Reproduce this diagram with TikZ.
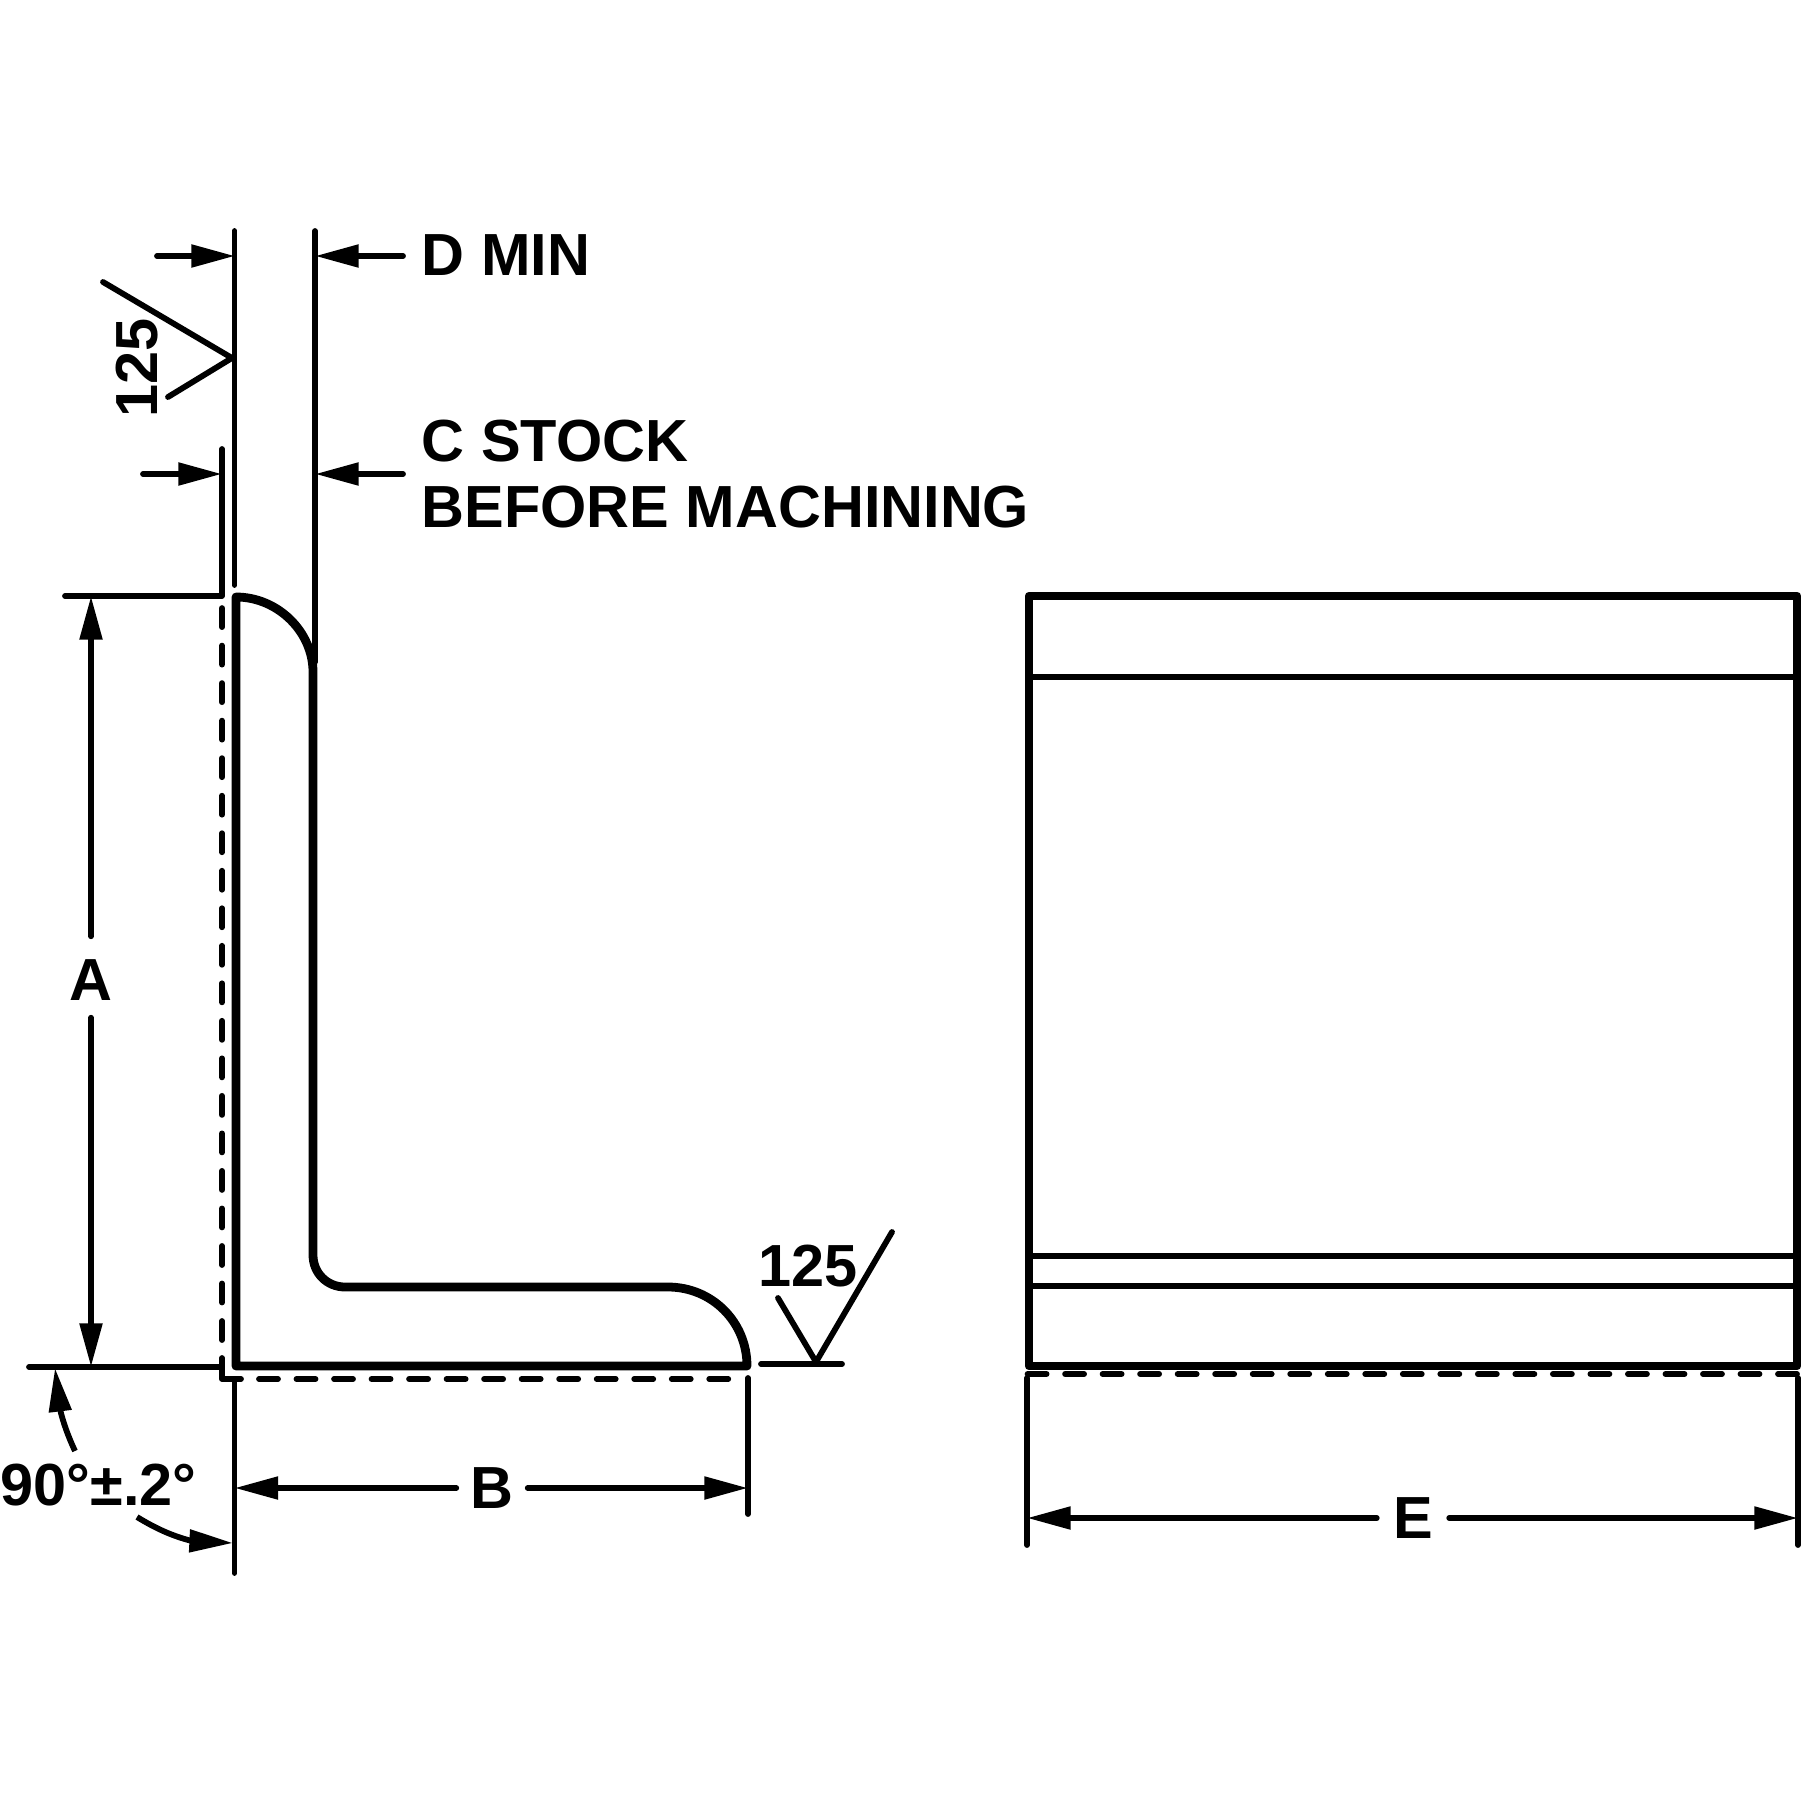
\documentclass[tikz,border=0pt]{standalone}
\usepackage{fontspec}
\setmainfont{Liberation Sans}
\usetikzlibrary{arrows.meta}
\tikzset{
  x=0.01cm,y=-0.01cm,
  thinline/.style={line width=1.65pt,line cap=round,line join=round,black},
  thickline/.style={line width=2.5pt,line cap=round,line join=round,black},
  dashline/.style={thinline,dash pattern=on 5.4pt off 5.27pt},
  dimline/.style={thinline,-{Triangle[length=12.4pt,width=6.2pt]}},
  lbl/.style={font=\bfseries\fontsize{16.9}{18}\selectfont,inner sep=0pt,text=black},
  txt/.style={lbl,anchor=base west},
}
\begin{document}
\begin{tikzpicture}
\useasboundingbox (0,0) rectangle (1803,1803);
\fill[white] (0,0) rectangle (1803,1803);

% extension-line anchor points
\coordinate (dLtop) at (234.5,231); \coordinate (dLbot) at (234.5,585);
\coordinate (dRtop) at (315,231);   \coordinate (dRbot) at (315,662);
\coordinate (cLtop) at (222,449);   \coordinate (cLbot) at (222,596);
\coordinate (aTopL) at (65,596);
\coordinate (aBotL) at (29,1367);   \coordinate (aBotR) at (222,1367);
\coordinate (bLtop) at (234.5,1379);\coordinate (bLbot) at (234.5,1573);
\coordinate (bRtop) at (748,1378);  \coordinate (bRbot) at (748,1514);
\coordinate (eLtop) at (1027,1378); \coordinate (eLbot) at (1027,1545);
\coordinate (eRtop) at (1798,1378); \coordinate (eRbot) at (1798,1545);

% left view outline
\draw[thickline] (236,1366) -- (236,597)
  .. controls (278,597) and (313,632) .. (313,672)
  -- (313,1255) .. controls (313,1273) and (327,1287) .. (345,1287)
  -- (668,1287) .. controls (712,1287) and (747,1322) .. (747,1366) -- cycle;

% extension lines
\draw[thinline] (dLtop) -- (dLbot);
\draw[thinline] (dRtop) -- (dRbot);
\draw[thinline] (cLtop) -- (cLbot) -- (aTopL);
\draw[thinline] (aBotL) -- (aBotR);
\draw[thinline] (bLtop) -- (bLbot);
\draw[thinline] (bRtop) -- (bRbot);
\draw[thinline] (eLtop) -- (eLbot);
\draw[thinline] (eRtop) -- (eRbot);

% stock dashes, left view
\draw[thinline] (241,1379) -- (222,1379) -- (222,1358);
\draw[dashline] (222,1340) -- (222,604);
\draw[dashline] (259,1379) -- (731,1379);

% labels
\node[txt] (dmin) at (421,275) {D MIN};
\node[txt] (cstock) at (421,461) {C STOCK};
\node[txt] (before) at (421,527) {BEFORE MACHINING};
\node[lbl,minimum height=0.8cm] (labA) at (91,977) {\raisebox{-0.85pt}[\height][\depth]{A}};
\node[lbl,minimum width=0.7cm] (labB) at (492,1488) {B};
\node[lbl,minimum width=0.71cm] (labE) at (1413,1518) {E};
\node[txt] (angle) at (0,1505) {90°±.2°};
\node[txt] (finR) at (758,1286) {125};
\node[txt,rotate=90] (finL) at (157,418) {125};

% dimension arrows
\coordinate (dA1) at (157,256);  \coordinate (dA2) at (235,256);
\coordinate (dB1) at (403,256);  \coordinate (dB2) at (315,256);
\coordinate (cA1) at (143,474);  \coordinate (cA2) at (222,474);
\coordinate (cB1) at (403,474);  \coordinate (cB2) at (315,474);
\draw[dimline] (dA1) -- (dA2);
\draw[dimline] (dB1) -- (dB2);
\draw[dimline] (cA1) -- (cA2);
\draw[dimline] (cB1) -- (cB2);

\coordinate (aTip1) at (91,596); \coordinate (aTip2) at (91,1367);
\draw[dimline] (labA.north) -- (aTip1);
\draw[dimline] (labA.south) -- (aTip2);

\coordinate (bTip1) at (234.5,1488); \coordinate (bTip2) at (748,1488);
\draw[dimline] (labB.west) -- (bTip1);
\draw[dimline] (labB.east) -- (bTip2);

\coordinate (eTip1) at (1027,1518); \coordinate (eTip2) at (1798,1518);
\draw[dimline] (labE.west) -- (eTip1);
\draw[dimline] (labE.east) -- (eTip2);

% angle arrows: curved shaft, then a straight arrowhead
\coordinate (angS1) at (75,1451); \coordinate (angB1) at (60,1409); \coordinate (angT1) at (55,1368);
\coordinate (angS2) at (137,1517); \coordinate (angB2) at (192,1541); \coordinate (angT2) at (233,1543);
\draw[thinline,line cap=butt] (angS1) .. controls (68,1436) and (63,1422) .. (angB1);
\draw[dimline,line cap=butt] (angB1) -- (angT1);
\draw[thinline,line cap=butt] (angS2) .. controls (155,1528) and (172,1536) .. (angB2);
\draw[dimline,line cap=butt] (angB2) -- (angT2);

% surface finish symbols
\coordinate (sL1) at (103,282); \coordinate (sLv) at (232,358); \coordinate (sL2) at (168,397);
\draw[thinline] (sL1) -- (sLv) -- (sL2);
\coordinate (sR1) at (778,1298); \coordinate (sRv) at (816,1362); \coordinate (sR2) at (892,1232);
\coordinate (sRa) at (761,1364); \coordinate (sRb) at (842,1364);
\draw[thinline] (sR1) -- (sRv) -- (sR2);
\draw[thinline] (sRa) -- (sRb);

% right view
\draw[thickline] (1029,596) rectangle (1797,1366);
\draw[line width=1.7pt,black] (1029,677) -- (1797,677);
\draw[line width=1.7pt,black] (1029,1256) -- (1797,1256);
\draw[line width=1.7pt,black] (1029,1286) -- (1797,1286);
\draw[dashline] (1797,1374) -- (1026,1374);
\end{tikzpicture}
\end{document}
